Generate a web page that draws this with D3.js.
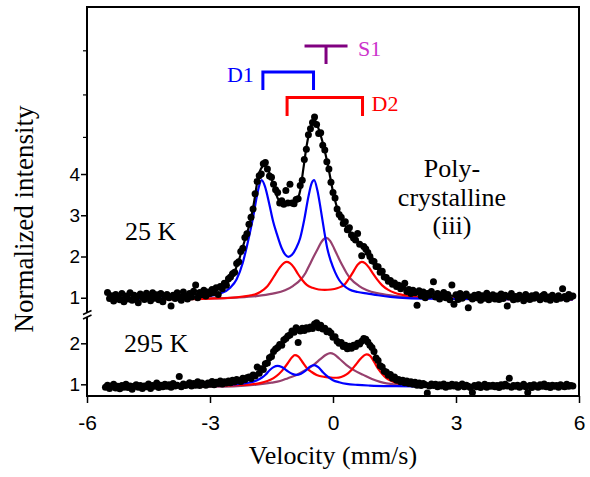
<!DOCTYPE html>
<html>
<head>
<meta charset="utf-8">
<script src="https://cdn.jsdelivr.net/npm/d3@7"></script>
<style>
  html, body { margin: 0; padding: 0; background: #fff; }
  svg { display: block; }
</style>
</head>
<body>
<svg id="chart" width="590" height="477"></svg>
<script>
// ---- Velocity axis ----
const velocityTicks = [-6, -3, 0, 3, 6];

// ---- Intensity axis ticks (two stacked panels) ----
const ticks25K = [1, 2, 3, 4];
const minorTicks25K = [4.9, 5.93, 7.0];
const ticks295K = [1, 2];

// ---- Measured spectra: evenly spaced channels, 0.05 mm/s apart ----
const channelStep = 0.05;
const start25K = -5.5;
const counts25K = [
  1.13,0.98,1.05,0.92,1.08,1.00,0.95,1.10,0.90,1.04,
  0.97,1.12,0.94,1.06,1.00,0.88,1.09,1.02,0.96,1.11,
  1.04,0.93,1.12,0.99,1.07,0.95,1.10,0.90,1.03,1.08,
  1.00,0.80,1.06,0.98,1.12,1.01,0.94,1.14,1.03,0.97,
  1.10,1.02,1.16,1.31,1.00,1.13,1.07,1.18,1.04,1.14,
  1.10,1.20,1.12,1.24,1.08,1.27,1.22,1.35,1.30,1.46,
  1.50,1.58,1.62,1.83,1.87,2.12,2.20,2.46,2.55,2.78,
  2.95,3.15,3.52,3.82,3.96,4.00,4.25,4.28,4.12,3.95,
  3.92,3.75,3.62,3.55,3.30,3.35,3.27,3.60,3.30,3.75,
  3.30,3.28,3.38,3.40,3.72,3.85,4.35,4.60,4.95,5.10,
  5.25,5.38,5.20,4.98,5.00,4.70,4.58,4.30,4.12,3.80,
  3.55,3.42,3.15,3.02,2.95,2.80,2.84,2.65,2.70,2.52,
  2.45,2.40,2.56,2.30,2.02,2.24,2.18,2.10,2.00,1.90,
  1.88,1.76,1.75,1.62,1.64,1.50,1.49,1.40,1.42,1.33,
  1.36,1.27,1.30,1.22,1.28,1.35,1.15,1.20,1.10,1.18,
  1.12,0.82,1.17,1.05,1.14,1.00,1.10,1.06,1.15,1.39,
  1.02,1.10,0.97,1.06,1.13,1.00,1.08,0.95,1.31,0.84,
  1.07,0.96,1.10,0.99,1.04,1.09,0.76,1.02,0.97,1.06,
  1.00,1.08,0.94,1.05,0.99,1.11,0.95,1.03,1.07,0.97,
  1.04,0.96,1.09,0.98,1.06,0.80,1.02,1.10,0.95,1.03,
  0.97,1.06,1.00,0.93,1.08,1.02,0.96,1.05,0.99,1.07,
  1.01,0.95,1.04,1.08,0.97,1.02,0.94,1.06,1.00,0.96,
  1.05,0.99,1.22,1.03,0.97,1.08,1.02,1.04
];

const start295K = -5.55;
const counts295K = [
  0.93,0.98,0.90,0.96,1.00,0.91,0.95,0.89,0.97,0.93,
  1.00,0.92,0.96,0.88,0.95,0.99,0.93,0.97,0.90,0.96,
  0.94,1.01,0.90,0.97,0.95,1.03,0.92,0.98,0.94,1.00,
  0.95,0.99,0.93,1.02,0.96,0.98,1.19,0.94,1.01,0.97,
  0.99,1.04,0.96,1.02,0.98,1.06,0.97,1.03,1.00,0.98,
  1.03,1.00,1.07,0.99,1.05,1.02,1.08,1.01,1.06,1.03,
  1.08,1.04,1.10,1.06,1.12,1.09,1.07,1.15,1.11,1.16,
  1.18,1.14,1.23,1.20,1.42,1.27,1.38,1.36,1.50,1.52,
  1.65,1.68,1.80,1.86,1.90,1.97,1.95,2.08,2.12,2.18,
  2.20,2.30,2.27,2.38,2.02,2.30,2.37,2.31,2.38,2.35,
  2.40,2.36,2.47,2.50,2.38,2.44,2.35,2.37,2.28,2.30,
  2.25,2.15,2.16,2.05,2.00,2.02,1.92,1.95,1.87,1.93,
  1.88,1.95,1.92,2.00,1.98,2.05,2.12,2.10,2.03,1.95,
  1.90,1.80,1.64,1.58,1.45,1.42,1.32,1.30,1.22,1.24,
  1.15,1.18,1.10,1.12,1.06,1.10,1.04,1.08,1.02,1.06,
  1.00,1.05,0.98,1.03,0.97,1.02,0.99,0.79,0.96,1.01,
  0.97,1.00,0.94,0.99,0.96,1.01,0.93,0.98,0.95,1.00,
  0.96,0.99,0.93,0.97,1.01,0.94,0.98,0.95,0.92,0.80,
  0.97,0.94,0.99,0.92,0.96,1.00,0.93,0.97,0.95,0.98,
  0.94,0.97,0.92,0.99,0.95,1.00,0.96,1.15,0.93,0.97,
  0.95,0.98,0.93,0.96,1.00,0.94,0.80,0.97,0.92,0.99,
  0.96,0.93,0.99,0.95,1.01,0.94,0.97,0.92,0.98,0.95,
  0.97,0.93,0.99,0.96,0.94,1.00,0.95,0.97,0.96
];

// ---- Fitted sub-spectra, 25 K: [velocity, normalized intensity] ----
const fitD1_25K = [
  [-5.5,0.97],[-4.5,0.98],[-3.5,1.01],[-3.0,1.05],[-2.75,1.10],[-2.5,1.25],[-2.35,1.45],
  [-2.2,1.85],[-2.1,2.25],[-2.0,2.70],[-1.94,3.00],[-1.86,3.45],[-1.8,3.72],[-1.74,3.85],
  [-1.66,3.70],[-1.56,3.30],[-1.46,2.85],[-1.37,2.55],[-1.25,2.20],[-1.17,2.05],[-1.09,1.99],
  [-1.0,2.04],[-0.9,2.20],[-0.8,2.45],[-0.7,2.90],[-0.6,3.45],[-0.52,3.78],[-0.46,3.85],
  [-0.38,3.60],[-0.3,3.15],[-0.22,2.65],[-0.14,2.20],[-0.05,1.88],[0.05,1.62],[0.15,1.43],
  [0.25,1.31],[0.4,1.20],[0.6,1.14],[0.85,1.10],[1.1,1.06],[1.4,1.02],[1.8,0.99],
  [2.5,0.975],[4.0,0.965],[5.85,0.96]
];
const fitD2_25K = [
  [-5.5,0.955],[-4.0,0.965],[-3.0,0.98],[-2.5,1.00],[-2.2,1.03],[-2.0,1.06],[-1.85,1.10],
  [-1.7,1.19],[-1.6,1.28],[-1.5,1.42],[-1.4,1.58],[-1.3,1.73],[-1.2,1.84],[-1.13,1.87],
  [-1.05,1.84],[-0.95,1.73],[-0.85,1.57],[-0.75,1.43],[-0.64,1.31],[-0.5,1.24],[-0.35,1.20],
  [-0.2,1.19],[-0.05,1.20],[0.1,1.23],[0.2,1.27],[0.3,1.34],[0.4,1.48],[0.5,1.64],[0.6,1.80],
  [0.7,1.87],[0.78,1.84],[0.88,1.73],[0.98,1.58],[1.08,1.44],[1.2,1.30],[1.35,1.19],
  [1.5,1.12],[1.7,1.07],[2.0,1.03],[2.5,1.00],[3.0,0.985],[4.0,0.97],[5.85,0.96]
];
const fitS1_25K = [
  [-5.5,0.96],[-4.17,0.967],[-3.17,0.98],[-2.37,1.005],[-1.87,1.04],[-1.47,1.10],[-1.17,1.18],
  [-0.97,1.29],[-0.77,1.46],[-0.67,1.60],[-0.57,1.80],[-0.47,2.00],[-0.37,2.19],[-0.27,2.37],
  [-0.17,2.45],[-0.07,2.38],[0.03,2.19],[0.13,1.98],[0.23,1.78],[0.33,1.60],[0.43,1.46],
  [0.63,1.29],[0.83,1.18],[1.13,1.10],[1.53,1.04],[2.03,1.005],[2.83,0.98],[3.83,0.967],
  [5.85,0.958]
];
const fitSum_25K = [
  [-5.5,1.00],[-4.5,1.02],[-3.5,1.07],[-3.0,1.13],[-2.75,1.23],[-2.6,1.33],[-2.45,1.52],
  [-2.3,1.90],[-2.15,2.40],[-2.02,2.84],[-1.92,3.35],[-1.84,3.85],[-1.76,4.12],[-1.66,4.22],
  [-1.56,4.05],[-1.45,3.73],[-1.33,3.38],[-1.2,3.30],[-1.05,3.28],[-0.9,3.35],[-0.8,3.60],
  [-0.72,4.15],[-0.64,4.70],[-0.55,5.12],[-0.46,5.33],[-0.36,5.12],[-0.24,4.72],[-0.11,4.14],
  [0.0,3.57],[0.16,3.00],[0.37,2.66],[0.62,2.36],[0.82,2.12],[1.06,1.79],[1.3,1.47],
  [1.6,1.28],[2.0,1.15],[2.5,1.08],[3.0,1.04],[4.0,1.01],[5.0,1.00],[5.85,0.99]
];

// ---- Fitted sub-spectra, 295 K ----
const fitD1_295K = [
  [-5.55,0.94],[-4.0,0.95],[-3.0,0.97],[-2.5,0.99],[-2.2,1.02],[-2.0,1.05],[-1.85,1.10],
  [-1.74,1.16],[-1.64,1.24],[-1.54,1.35],[-1.45,1.42],[-1.35,1.45],[-1.25,1.42],[-1.12,1.33],
  [-1.0,1.26],[-0.89,1.23],[-0.78,1.26],[-0.66,1.34],[-0.56,1.43],[-0.46,1.47],[-0.36,1.42],
  [-0.24,1.29],[-0.12,1.18],[0.0,1.10],[0.15,1.05],[0.33,1.01],[0.6,0.985],[0.9,0.97],
  [1.55,0.955],[2.5,0.945],[4.0,0.94],[5.85,0.935]
];
const fitD2_295K = [
  [-5.55,0.935],[-4.0,0.945],[-3.0,0.96],[-2.4,0.98],[-2.0,1.00],[-1.78,1.03],[-1.6,1.08],
  [-1.45,1.15],[-1.32,1.25],[-1.21,1.37],[-1.1,1.52],[-1.0,1.66],[-0.93,1.71],[-0.85,1.68],
  [-0.75,1.55],[-0.64,1.40],[-0.52,1.30],[-0.4,1.23],[-0.2,1.18],[0.0,1.16],[0.09,1.16],
  [0.2,1.18],[0.33,1.24],[0.45,1.35],[0.55,1.47],[0.65,1.60],[0.74,1.69],[0.82,1.73],
  [0.9,1.70],[1.0,1.55],[1.1,1.38],[1.2,1.25],[1.3,1.15],[1.45,1.07],[1.6,1.02],
  [1.9,0.98],[2.5,0.96],[4.0,0.945],[5.85,0.94]
];
const fitS1_295K = [
  [-5.55,0.93],[-4.0,0.935],[-3.0,0.94],[-2.43,0.95],[-1.87,0.99],[-1.5,1.04],[-1.29,1.08],
  [-1.1,1.15],[-0.89,1.23],[-0.7,1.33],[-0.48,1.47],[-0.3,1.62],[-0.17,1.72],[-0.07,1.76],
  [0.03,1.73],[0.15,1.63],[0.33,1.47],[0.52,1.34],[0.74,1.23],[0.95,1.13],[1.15,1.06],
  [1.55,0.99],[2.0,0.96],[3.0,0.945],[4.0,0.94],[5.85,0.935]
];
const fitSum_295K = [
  [-5.55,0.95],[-4.0,0.97],[-3.0,1.01],[-2.5,1.05],[-2.2,1.115],[-2.0,1.165],[-1.85,1.25],
  [-1.74,1.345],[-1.64,1.475],[-1.54,1.635],[-1.45,1.77],[-1.35,1.88],[-1.25,1.98],
  [-1.12,2.13],[-1.0,2.27],[-0.93,2.33],[-0.85,2.35],[-0.75,2.33],[-0.66,2.34],[-0.56,2.38],
  [-0.46,2.41],[-0.36,2.41],[-0.24,2.36],[-0.12,2.28],[0.0,2.18],[0.15,2.02],[0.33,1.90],
  [0.45,1.90],[0.55,1.95],[0.65,2.00],[0.74,2.04],[0.82,2.035],[0.9,1.97],[1.0,1.77],
  [1.1,1.565],[1.2,1.40],[1.3,1.285],[1.45,1.167],[1.6,1.10],[1.9,1.042],[2.5,1.00],
  [4.0,0.965],[5.85,0.95]
];

// ---- Line positions of the sites (mm/s) ----
const siteD1 = [-1.71, -0.475];
const siteD2 = [-1.12, 0.72];
const siteS1 = [-0.17];

// ---- Layout ----
const plotL = 87, plotR = 579, plotT = 7, plotB = 396;
const serif = "'Liberation Serif', 'Times New Roman', Times, serif";
const sans = "'Liberation Sans', Arial, Helvetica, sans-serif";
const colD1 = "#0000ff", colD2 = "#ff0000", colS1 = "#96406e";

const svg = d3.select("#chart");

const x = d3.scaleLinear().domain([-6, 6]).range([plotL, plotR]);
const yTop = d3.scaleLinear().domain([0.63, 8.05]).range([313, plotT]);
const yBot = d3.scaleLinear().domain([0.715, 2.617]).range([plotB, 318]);

function drawPanel(y, comps, sum, counts, start) {
  const g = svg.append("g");
  const line = d3.line()
    .x(d => x(d[0]))
    .y(d => y(d[1]))
    .curve(d3.curveMonotoneX);

  comps.forEach(c => {
    g.append("path")
      .datum(c.data)
      .attr("fill", "none")
      .attr("stroke", c.color)
      .attr("stroke-width", 2.2)
      .attr("stroke-linejoin", "round")
      .attr("d", line);
  });

  const pts = counts.map((v, i) => [start + i * channelStep, v]);
  g.append("g").selectAll("circle")
    .data(pts)
    .join("circle")
    .attr("cx", d => x(d[0]))
    .attr("cy", d => y(d[1]))
    .attr("r", 3.5)
    .attr("fill", "#000");

  g.append("path")
    .datum(sum)
    .attr("fill", "none")
    .attr("stroke", "#000")
    .attr("stroke-width", 2.2)
    .attr("stroke-linejoin", "round")
    .attr("d", line);
}

drawPanel(yTop,
  [{ data: fitS1_25K, color: colS1 }, { data: fitD2_25K, color: colD2 }, { data: fitD1_25K, color: colD1 }],
  fitSum_25K, counts25K, start25K);

drawPanel(yBot,
  [{ data: fitS1_295K, color: colS1 }, { data: fitD2_295K, color: colD2 }, { data: fitD1_295K, color: colD1 }],
  fitSum_295K, counts295K, start295K);

// ---- Frame and axes ----
const frame = svg.append("g").attr("stroke", "#000").attr("stroke-width", 2).attr("fill", "none");
frame.append("line").attr("x1", plotL).attr("x2", plotR + 1).attr("y1", plotT).attr("y2", plotT);
frame.append("line").attr("x1", plotR).attr("x2", plotR).attr("y1", plotT).attr("y2", plotB);
frame.append("line").attr("x1", plotL - 1).attr("x2", plotR + 1).attr("y1", plotB).attr("y2", plotB);
frame.append("line").attr("x1", plotL).attr("x2", plotL).attr("y1", plotT - 1).attr("y2", 312.5);
frame.append("line").attr("x1", plotL).attr("x2", plotL).attr("y1", 317).attr("y2", plotB);
// axis break marks
frame.append("line").attr("x1", 83).attr("y1", 314.5).attr("x2", 91.5).attr("y2", 310.5).attr("stroke-width", 1.5);
frame.append("line").attr("x1", 83).attr("y1", 319).attr("x2", 91.5).attr("y2", 315).attr("stroke-width", 1.5);

// x axis (plain hyphen-minus in the labels)
const xAxis = svg.append("g")
  .attr("transform", `translate(0,${plotB})`)
  .call(d3.axisBottom(x).tickValues(velocityTicks).tickFormat(d => String(d)).tickSize(7).tickSizeOuter(0).tickPadding(12));
xAxis.select(".domain").remove();
xAxis.selectAll(".tick line").attr("stroke-width", 1.5);
xAxis.selectAll(".tick text").attr("font-family", sans).attr("font-size", 21).attr("fill", "#000");

// y axes
function yAxis(scale, values, size, labelled) {
  const ax = svg.append("g")
    .attr("transform", `translate(${plotL},0)`)
    .call(d3.axisLeft(scale).tickValues(values).tickSize(size).tickSizeOuter(0).tickPadding(1)
      .tickFormat(labelled ? (d => String(d)) : () => ""));
  ax.select(".domain").remove();
  ax.selectAll(".tick line").attr("stroke-width", labelled ? 1.5 : 1.2);
  ax.selectAll(".tick text").attr("font-family", sans).attr("font-size", 19).attr("fill", "#000");
}
yAxis(yTop, ticks25K, 6, true);
yAxis(yTop, minorTicks25K, 4, false);
yAxis(yBot, ticks295K, 6, true);

// axis titles
svg.append("text")
  .attr("x", x(0)).attr("y", 464)
  .attr("text-anchor", "middle")
  .attr("font-family", serif).attr("font-size", 26)
  .text("Velocity (mm/s)");
svg.append("text")
  .attr("transform", "translate(33,219) rotate(-90)")
  .attr("text-anchor", "middle")
  .attr("font-family", serif).attr("font-size", 27)
  .text("Normalized intensity");

// temperature labels and sample note
svg.append("text").attr("x", 125).attr("y", 240)
  .attr("font-family", serif).attr("font-size", 26).text("25 K");
svg.append("text").attr("x", 124).attr("y", 352)
  .attr("font-family", serif).attr("font-size", 26).text("295 K");
const note = svg.append("text").attr("text-anchor", "middle")
  .attr("font-family", serif).attr("font-size", 26);
note.append("tspan").attr("x", 452).attr("y", 177).text("Poly-");
note.append("tspan").attr("x", 452).attr("y", 205.5).text("crystalline");
note.append("tspan").attr("x", 452).attr("y", 234).text("(iii)");

// ---- Site markers ----
function doublet(lines, yBar, yLeg, color, label, labelX, labelY, anchor) {
  const p = d3.path();
  p.moveTo(x(lines[0]), yLeg);
  p.lineTo(x(lines[0]), yBar);
  p.lineTo(x(lines[1]), yBar);
  p.lineTo(x(lines[1]), yLeg);
  svg.append("path").attr("d", p.toString())
    .attr("fill", "none").attr("stroke", color).attr("stroke-width", 3);
  svg.append("text").attr("x", labelX).attr("y", labelY)
    .attr("text-anchor", anchor)
    .attr("font-family", serif).attr("font-size", 22).attr("fill", color).text(label);
}
doublet(siteD1, 72, 90, colD1, "D1", x(siteD1[0]) - 9, 82, "end");
doublet(siteD2, 97.5, 116, colD2, "D2", x(siteD2[1]) + 9, 110.5, "start");

const s1x = x(siteS1[0]);
const s1 = d3.path();
s1.moveTo(s1x - 21.5, 46); s1.lineTo(s1x + 21.5, 46);
s1.moveTo(s1x, 46); s1.lineTo(s1x, 64);
svg.append("path").attr("d", s1.toString())
  .attr("fill", "none").attr("stroke", "#800080").attr("stroke-width", 3);
svg.append("text").attr("x", s1x + 32).attr("y", 56)
  .attr("font-family", serif).attr("font-size", 22).attr("fill", "#cc33cc").text("S1");
</script>
</body>
</html>
